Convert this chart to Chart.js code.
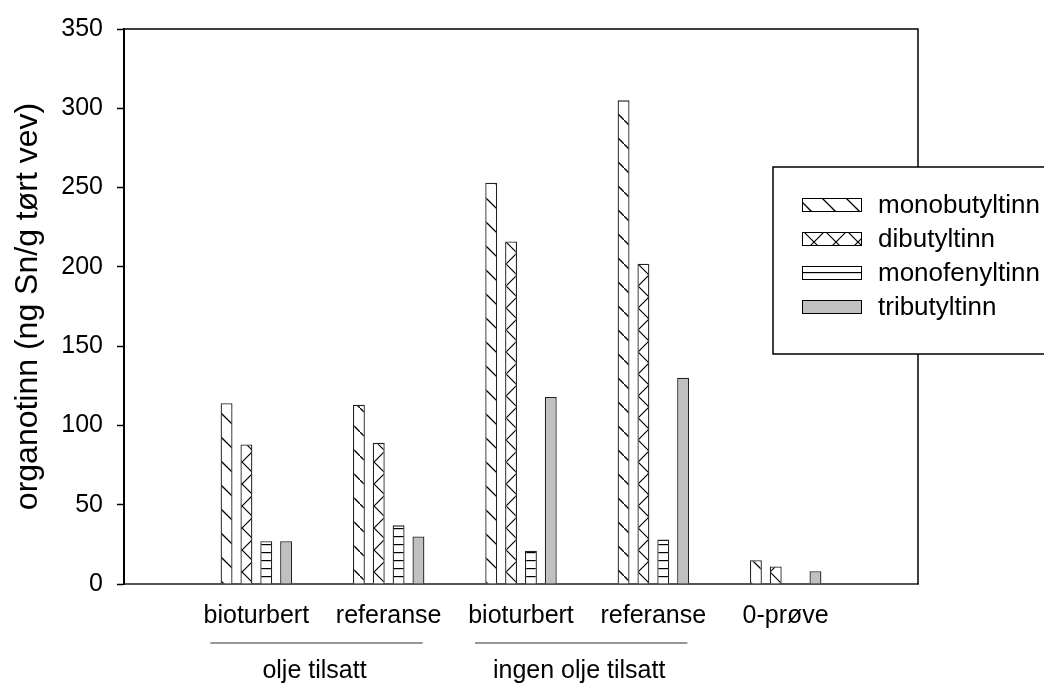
<!DOCTYPE html>
<html>
<head>
<meta charset="utf-8">
<script src="https://cdn.jsdelivr.net/npm/chart.js@4/dist/chart.umd.min.js"></script>
<style>
  html, body { margin: 0; padding: 0; background: #fff; }
  #wrap { width: 1044px; height: 683px; }
</style>
</head>
<body>
<div id="wrap"><canvas id="organotinn" width="1044" height="683"></canvas></div>
<script>
// categories (empty slots at both ends keep the groups off the frame)
const categories = ['', 'bioturbert', 'referanse', 'bioturbert', 'referanse', '0-prøve', '']
const groups = [
  { label: 'olje tilsatt', from: 1, to: 2 },
  { label: 'ingen olje tilsatt', from: 3, to: 4 }
]
const seriesNames = ['monobutyltinn', 'dibutyltinn', 'monofenyltinn', 'tributyltinn']
const monobutyltinn = [null, 114, 113, 253, 305, 15, null]
const dibutyltinn = [null, 88, 89, 216, 202, 11, null]
const monofenyltinn = [null, 27, 37, 21, 28, null, null]
const tributyltinn = [null, 27, 30, 118, 130, 8, null]
const yTicks = [0, 50, 100, 150, 200, 250, 300, 350]
const yTitle = 'organotinn (ng Sn/g tørt vev)'

const FONT = '"Liberation Sans", Arial, sans-serif'
const ctx = document.querySelector('#organotinn').getContext('2d')

const makePattern = (kind) => {
  const c = document.createElement('canvas')
  const g = c.getContext('2d')
  if (kind === 'back') {
    c.width = c.height = 24
    g.fillStyle = '#fff'; g.fillRect(0, 0, 24, 24)
    g.strokeStyle = '#000'; g.lineWidth = 1.3
    g.beginPath(); g.moveTo(-2, -2); g.lineTo(26, 26); g.stroke()
  } else if (kind === 'cross') {
    c.width = c.height = 22
    g.fillStyle = '#fff'; g.fillRect(0, 0, 22, 22)
    g.strokeStyle = '#000'; g.lineWidth = 1.2
    g.beginPath()
    g.moveTo(-2, -2); g.lineTo(24, 24)
    g.moveTo(24, -2); g.lineTo(-2, 24)
    g.stroke()
  } else if (kind === 'horiz') {
    c.width = 8; c.height = 8
    g.fillStyle = '#fff'; g.fillRect(0, 0, 8, 8)
    g.fillStyle = '#000'; g.fillRect(0, 0, 8, 1.2)
  }
  return ctx.createPattern(c, 'repeat')
}

const fills = [makePattern('back'), makePattern('cross'), makePattern('horiz'), '#c0c0c0']
const seriesData = [monobutyltinn, dibutyltinn, monofenyltinn, tributyltinn]

const frame = {
  id: 'frame',
  afterDatasetsDraw (chart) {
    const { ctx, chartArea: a } = chart
    ctx.save()
    ctx.strokeStyle = '#000'
    ctx.lineWidth = 1.5
    ctx.beginPath()
    ctx.moveTo(a.left, a.top); ctx.lineTo(a.right, a.top); ctx.lineTo(a.right, a.bottom)
    ctx.stroke()
    ctx.restore()
  },
  afterDraw (chart) {
    const { ctx, scales: { x } } = chart
    ctx.save()
    // group lines and labels under the category labels
    ctx.strokeStyle = '#333'
    ctx.lineWidth = 1.2
    ctx.fillStyle = '#000'
    ctx.font = '25px ' + FONT
    ctx.textAlign = 'center'
    ctx.textBaseline = 'middle'
    groups.forEach(gr => {
      const l = x.getPixelForValue(gr.from) - 46
      const r = x.getPixelForValue(gr.to) + 34
      ctx.beginPath(); ctx.moveTo(l, 643); ctx.lineTo(r, 643); ctx.stroke()
      ctx.fillText(gr.label, (l + r) / 2 - 2, 671)
    })
    // legend box
    ctx.lineWidth = 1.5
    ctx.strokeStyle = '#000'
    ctx.fillStyle = '#fff'
    ctx.fillRect(773, 167, 280, 187)
    ctx.strokeRect(773, 167, 280, 187)
    ctx.textAlign = 'left'
    ctx.font = '26px ' + FONT
    seriesNames.forEach((name, i) => {
      const y = 205 + i * 34
      ctx.fillStyle = fills[i]
      ctx.fillRect(802, y - 7, 60, 14)
      ctx.lineWidth = 1
      ctx.strokeStyle = '#000'
      ctx.strokeRect(802.5, y - 6.5, 59, 13)
      ctx.fillStyle = '#000'
      ctx.fillText(name, 878, y + 1)
    })
    ctx.restore()
  }
}

new Chart(ctx, {
  type: 'bar',
  data: {
    labels: categories,
    datasets: seriesNames.map((name, i) => ({
      label: name,
      data: seriesData[i],
      backgroundColor: fills[i],
      borderColor: '#222',
      borderWidth: 1.3,
      borderSkipped: 'bottom',
      categoryPercentage: 0.6,
      barPercentage: 0.6
    }))
  },
  options: {
    responsive: false,
    animation: false,
    layout: { padding: { top: 27, right: 126, left: 0, bottom: 0 } },
    plugins: {
      legend: { display: false },
      tooltip: { enabled: false }
    },
    scales: {
      x: {
        offset: false,
        grid: { display: false, drawTicks: false },
        border: { color: '#555', width: 2 },
        ticks: {
          color: '#000',
          font: { family: FONT, size: 25 },
          padding: 17,
          maxRotation: 0,
          autoSkip: false
        },
        afterFit: (s) => { s.height = 99 }
      },
      y: {
        min: 0,
        max: 350,
        afterBuildTicks: (s) => { s.ticks = yTicks.map(v => ({ value: v })) },
        grid: { drawOnChartArea: false, tickLength: 7, color: '#000', tickWidth: 1.5 },
        border: { color: '#000', width: 2 },
        ticks: {
          color: '#000',
          font: { family: FONT, size: 25 },
          padding: 14
        },
        title: {
          display: true,
          text: yTitle,
          color: '#000',
          font: { family: FONT, size: 32 },
          padding: { top: 9, bottom: 0 }
        },
        afterFit: (s) => { s.width = 124 }
      }
    }
  },
  plugins: [frame]
})
</script>
</body>
</html>
